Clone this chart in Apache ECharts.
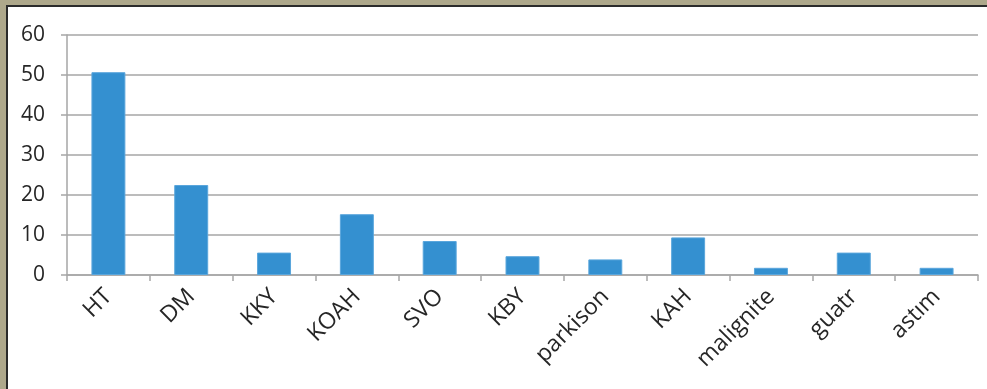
<!DOCTYPE html>
<html><head><meta charset="utf-8">
<script src="https://cdn.jsdelivr.net/npm/echarts@6/dist/echarts.min.js"></script>
<style>html,body{margin:0;padding:0;background:#fff}#c{width:987px;height:389px}</style>
</head><body><div id="c"></div>
<script>
const categories = ['HT','DM','KKY','KOAH','SVO','KBY','parkison','KAH','malignite','guatr','astım'];
const values = [50.7, 22.5, 5.6, 15.2, 8.5, 4.7, 3.9, 9.4, 1.8, 5.6, 1.8];
const yTicks = [0, 10, 20, 30, 40, 50, 60];

const chart = echarts.init(document.getElementById('c'), null, {renderer:'canvas'});
const font = '"Open Sans", sans-serif';
chart.setOption({
  animation: false,
  backgroundColor: '#fff',
  grid: {left: 67, right: 9, top: 35, bottom: 114, containLabel: false},
  xAxis: {
    type: 'category', data: categories,
    axisLine: {lineStyle: {color: '#a6a6a6', width: 1.5}},
    axisTick: {show: true, length: 6, lineStyle: {color: '#a6a6a6', width: 1.5}},
    axisLabel: {rotate: 45, margin: 18, color: '#262626', fontSize: 23, fontFamily: font, interval: 0}
  },
  yAxis: {
    type: 'value', min: yTicks[0], max: yTicks[yTicks.length-1], interval: 10,
    axisLine: {show: true, lineStyle: {color: '#a6a6a6', width: 1.5}},
    axisTick: {show: true, length: 6, lineStyle: {color: '#a6a6a6', width: 1.5}},
    splitLine: {lineStyle: {color: '#a6a6a6', width: 1.5}},
    axisLabel: {margin: 22, color: '#262626', fontSize: 21, fontFamily: font}
  },
  series: [{
    type: 'bar', data: values, barWidth: '41%', barCategoryGap: '59%',
    itemStyle: {color: '#3490d0', borderColor: '#5aa6dc', borderWidth: 1}
  }],
  graphic: [
    {type:'rect', shape:{x:0,y:0,width:987,height:5}, style:{fill:'#aea88b'}, z:100},
    {type:'rect', shape:{x:0,y:0,width:6,height:389}, style:{fill:'#aea88b'}, z:100},
    {type:'rect', shape:{x:6,y:5,width:981,height:2}, style:{fill:'#2b2b2b'}, z:101},
    {type:'rect', shape:{x:6,y:5,width:2,height:384}, style:{fill:'#2b2b2b'}, z:101}
  ]
});
</script></body></html>
